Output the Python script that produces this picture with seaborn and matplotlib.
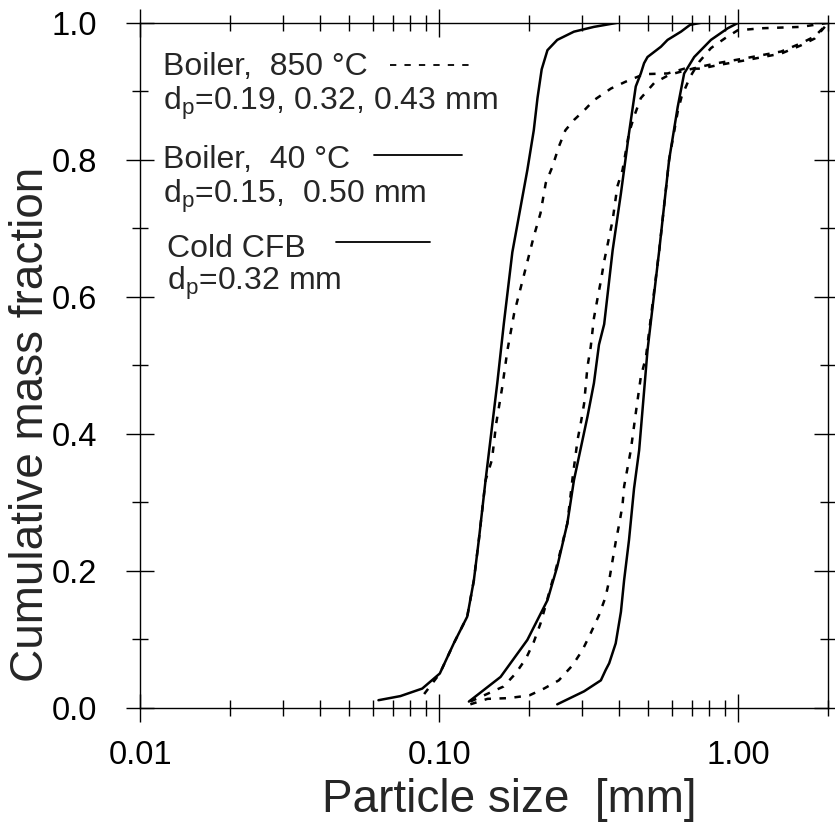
import matplotlib
matplotlib.use("Agg")
import matplotlib.pyplot as plt
from matplotlib.ticker import FixedLocator, NullFormatter, MultipleLocator
import numpy as np
import pandas as pd
import seaborn as sns

# Cumulative mass fraction vs particle size [mm]
# Boiler, 40 °C, dp = 0.15 mm (solid)
boiler40_015_size = [0.0626, 0.0741, 0.0877, 0.1004, 0.1118, 0.124, 0.1305, 0.1356, 0.1428,
                     0.1563, 0.1644, 0.1755, 0.187, 0.197, 0.207, 0.213, 0.220, 0.230, 0.248,
                     0.282, 0.329, 0.394]
boiler40_015_frac = [0.011, 0.017, 0.028, 0.050, 0.094, 0.133, 0.186, 0.245, 0.332,
                     0.474, 0.561, 0.665, 0.731, 0.785, 0.843, 0.890, 0.932, 0.960, 0.975,
                     0.987, 0.994, 1.0]

# Boiler, 850 °C, dp = 0.19 mm (dashed)
boiler850_019_size = [0.089, 0.1004, 0.1118, 0.124, 0.1305, 0.1356, 0.1428, 0.150, 0.155,
                      0.1625, 0.169, 0.178, 0.192, 0.207, 0.218, 0.227, 0.239, 0.251,
                      0.264, 0.282, 0.305, 0.329, 0.375, 0.42, 0.484, 0.58, 0.66, 0.75,
                      0.85, 1.05, 1.39, 1.62, 1.80, 2.0]
boiler850_019_frac = [0.020, 0.050, 0.094, 0.133, 0.186, 0.245, 0.332, 0.362, 0.415,
                      0.469, 0.522, 0.576, 0.632, 0.688, 0.722, 0.766, 0.790, 0.819,
                      0.843, 0.858, 0.872, 0.887, 0.904, 0.914, 0.925, 0.926, 0.933, 0.933,
                      0.938, 0.945, 0.955, 0.967, 0.977, 1.0]

# Cold CFB, dp = 0.32 mm (solid)
cold_032_size = [0.1256, 0.1603, 0.197, 0.230, 0.248, 0.268, 0.282, 0.313, 0.329, 0.342,
                 0.356, 0.380, 0.405, 0.431, 0.454, 0.472, 0.484, 0.497, 0.551, 0.58,
                 0.643, 0.69, 0.75]
cold_032_frac = [0.009, 0.045, 0.099, 0.157, 0.206, 0.269, 0.332, 0.425, 0.474, 0.530,
                 0.560, 0.668, 0.751, 0.839, 0.907, 0.926, 0.941, 0.950, 0.965, 0.975,
                 0.987, 0.997, 1.0]

# Boiler, 850 °C, dp = 0.32 mm (dashed)
boiler850_032_size = [0.127, 0.164, 0.180, 0.195, 0.207, 0.218, 0.227, 0.236, 0.245, 0.268,
                      0.279, 0.290, 0.298, 0.305, 0.313, 0.321, 0.329, 0.338, 0.347, 0.356,
                      0.380, 0.394, 0.410, 0.431, 0.448, 0.472, 0.523, 0.587, 0.66, 0.75,
                      0.85, 1.05, 1.39, 1.62, 1.80, 2.0]
boiler850_032_frac = [0.009, 0.031, 0.050, 0.072, 0.096, 0.123, 0.150, 0.177, 0.201, 0.269,
                      0.335, 0.391, 0.418, 0.444, 0.498, 0.527, 0.569, 0.597, 0.623, 0.652,
                      0.712, 0.761, 0.785, 0.839, 0.863, 0.890, 0.912, 0.924, 0.930, 0.936,
                      0.941, 0.948, 0.958, 0.970, 0.980, 1.0]

# Boiler, 40 °C, dp = 0.50 mm (solid)
boiler40_050_size = [0.248, 0.305, 0.347, 0.360, 0.370, 0.389, 0.405, 0.415, 0.431, 0.448,
                     0.466, 0.497, 0.544, 0.587, 0.627, 0.659, 0.712, 0.81, 0.922, 1.0]
boiler40_050_frac = [0.005, 0.024, 0.040, 0.055, 0.065, 0.094, 0.140, 0.186, 0.245, 0.320,
                     0.376, 0.522, 0.668, 0.800, 0.877, 0.926, 0.950, 0.975, 0.992, 1.0]

# Boiler, 850 °C, dp = 0.43 mm (dashed)
boiler850_043_size = [0.127, 0.145, 0.170, 0.200, 0.224, 0.251, 0.279, 0.301, 0.321, 0.342,
                      0.360, 0.370, 0.380, 0.389, 0.400, 0.410, 0.415, 0.437, 0.454, 0.472,
                      0.491, 0.544, 0.587, 0.627, 0.646, 0.69, 0.74, 0.81, 0.90, 0.995,
                      1.2, 1.62, 2.0]
boiler850_043_frac = [0.005, 0.013, 0.014, 0.018, 0.028, 0.040, 0.062, 0.084, 0.109, 0.135,
                      0.162, 0.186, 0.216, 0.242, 0.269, 0.296, 0.323, 0.376, 0.430, 0.483,
                      0.512, 0.668, 0.800, 0.870, 0.892, 0.921, 0.943, 0.963, 0.977, 0.989,
                      0.992, 0.994, 1.0]

x_ticks = [0.01, 0.1, 1.0]
x_tick_labels = ["0.01", "0.10", "1.00"]
y_ticks = [0.0, 0.2, 0.4, 0.6, 0.8, 1.0]
y_tick_labels = ["0.0", "0.2", "0.4", "0.6", "0.8", "1.0"]

curves = [
    ("Boiler 40 °C, 0.15 mm", "solid", boiler40_015_size, boiler40_015_frac),
    ("Boiler 850 °C, 0.19 mm", "dashed", boiler850_019_size, boiler850_019_frac),
    ("Cold CFB, 0.32 mm", "solid", cold_032_size, cold_032_frac),
    ("Boiler 850 °C, 0.32 mm", "dashed", boiler850_032_size, boiler850_032_frac),
    ("Boiler 40 °C, 0.50 mm", "solid", boiler40_050_size, boiler40_050_frac),
    ("Boiler 850 °C, 0.43 mm", "dashed", boiler850_043_size, boiler850_043_frac),
]
df = pd.concat(
    [pd.DataFrame({"size": s, "frac": f, "curve": name, "kind": kind})
     for name, kind, s, f in curves],
    ignore_index=True,
)

sns.set_theme(style="ticks")
plt.rcParams["font.family"] = ["Liberation Sans", "DejaVu Sans"]
plt.rcParams["mathtext.fontset"] = "custom"
plt.rcParams["mathtext.rm"] = "Liberation Sans"
plt.rcParams["mathtext.it"] = "Liberation Sans:italic"

fig = plt.figure(figsize=(8.35, 8.22), dpi=100)
ax = fig.add_axes([0.168, 0.139, 0.824, 0.8333])

DASH = (2.6, 3.4)
sns.lineplot(data=df, x="size", y="frac", units="curve", style="kind",
             dashes={"solid": "", "dashed": DASH}, estimator=None, sort=False,
             color="black", linewidth=1.8, legend=False, ax=ax)

ax.set_xscale("log")
ax.set_xlim(0.01, 2.0)
ax.set_ylim(0.0, 1.0)

ax.xaxis.set_major_locator(FixedLocator(x_ticks))
ax.set_xticklabels(x_tick_labels)
ax.xaxis.set_minor_locator(FixedLocator(
    [m * d for d in (0.01, 0.1, 1.0) for m in range(2, 10) if m * d <= 2.0]))
ax.xaxis.set_minor_formatter(NullFormatter())
ax.yaxis.set_major_locator(FixedLocator(y_ticks))
ax.set_yticklabels(y_tick_labels)
ax.yaxis.set_minor_locator(MultipleLocator(0.1))

for sp in ax.spines.values():
    sp.set_visible(True)
    sp.set_linewidth(1.0)
    sp.set_color("black")

ax.tick_params(which="both", direction="inout", top=True, right=True,
               width=1.0, colors="black")
ax.tick_params(which="major", length=20, labelsize=23.5)
ax.tick_params(axis="x", which="major", pad=13.5)
ax.tick_params(axis="y", which="major", pad=21)
ax.tick_params(which="minor", length=11)

ax.set_xlabel("Particle size  [mm]", fontsize=33)
ax.set_ylabel("Cumulative mass fraction", fontsize=33)
ax.xaxis.set_label_coords(0.536, -0.102)
ax.yaxis.set_label_coords(-0.1265, 0.413)

# Key, written inside the plot area
fs = 23
tx = 0.033
ax.text(tx, 0.924, "Boiler,  850 °C", transform=ax.transAxes, fontsize=fs, va="baseline")
ax.text(tx, 0.873, r"d$_\mathrm{p}$=0.19, 0.32, 0.43 mm", transform=ax.transAxes,
        fontsize=fs, va="baseline")
ax.text(tx, 0.788, "Boiler,  40 °C", transform=ax.transAxes, fontsize=fs, va="baseline")
ax.text(tx, 0.737, r"d$_\mathrm{p}$=0.15,  0.50 mm", transform=ax.transAxes,
        fontsize=fs, va="baseline")
ax.text(tx + 0.006, 0.658, "Cold CFB", transform=ax.transAxes, fontsize=fs, va="baseline")
ax.text(tx + 0.006, 0.610, r"d$_\mathrm{p}$=0.32 mm", transform=ax.transAxes,
        fontsize=fs, va="baseline")
ax.plot([0.363, 0.482], [0.938, 0.938], transform=ax.transAxes, color="black",
        lw=1.3, dashes=(3.5, 4.5))
ax.plot([0.340, 0.468], [0.807, 0.807], transform=ax.transAxes, color="black", lw=1.3)
ax.plot([0.284, 0.421], [0.680, 0.680], transform=ax.transAxes, color="black", lw=1.3)

fig.savefig("out.png", dpi=100, facecolor="white")
